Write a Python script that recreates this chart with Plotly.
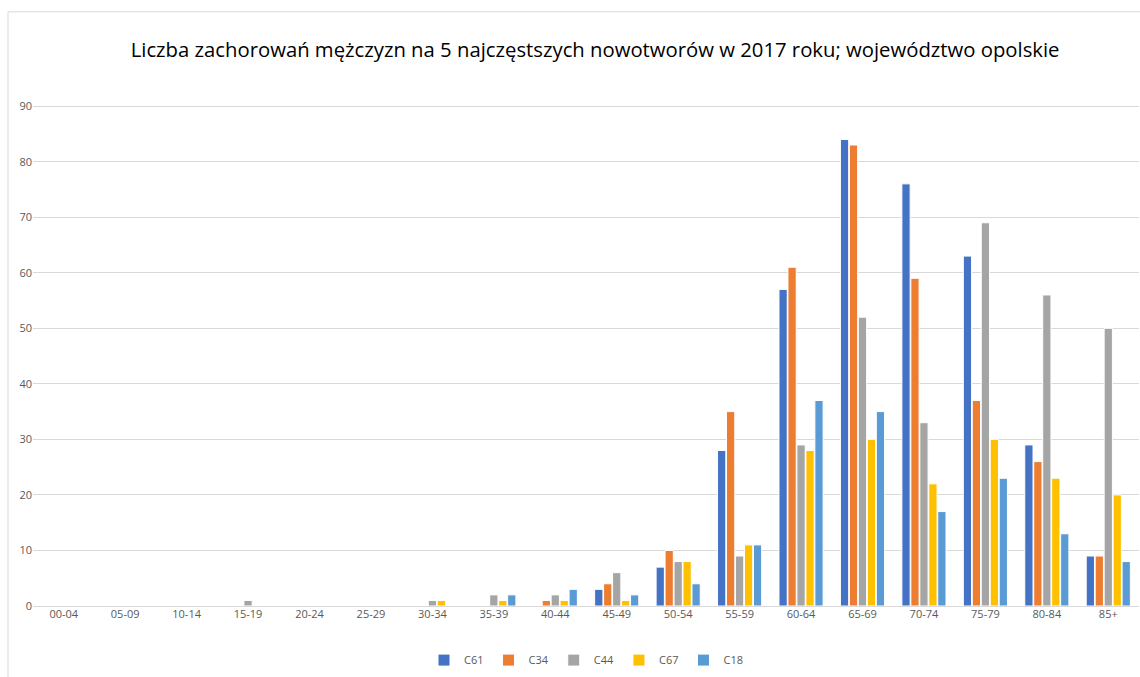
import plotly.graph_objects as go

groups = ["00-04", "05-09", "10-14", "15-19", "20-24", "25-29", "30-34", "35-39", "40-44",
          "45-49", "50-54", "55-59", "60-64", "65-69", "70-74", "75-79", "80-84", "85+"]

c61 = [0, 0, 0, 0, 0, 0, 0, 0, 0, 3, 7, 28, 57, 84, 76, 63, 29, 9]
c34 = [0, 0, 0, 0, 0, 0, 0, 0, 1, 4, 10, 35, 61, 83, 59, 37, 26, 9]
c44 = [0, 0, 0, 1, 0, 0, 1, 2, 2, 6, 8, 9, 29, 52, 33, 69, 56, 50]
c67 = [0, 0, 0, 0, 0, 0, 1, 1, 1, 1, 8, 11, 28, 30, 22, 30, 23, 20]
c18 = [0, 0, 0, 0, 0, 0, 0, 2, 3, 2, 4, 11, 37, 35, 17, 23, 13, 8]

series = [("C61", c61, "#4472C4"), ("C34", c34, "#ED7D31"), ("C44", c44, "#A5A5A5"),
          ("C67", c67, "#FFC000"), ("C18", c18, "#5B9BD5")]

fig = go.Figure()
for name, vals, col in series:
    fig.add_trace(go.Bar(x=groups, y=vals, name=name, marker_color=col,
                         marker_line=dict(color="white", width=1)))

fig.update_layout(
    width=1140, height=677,
    paper_bgcolor="white", plot_bgcolor="white",
    margin=dict(l=33, r=1, t=105, b=71),
    font=dict(family="Open Sans, sans-serif", color="#595959", size=11),
    title=dict(text="Liczba zachorowań mężczyzn na 5 najczęstszych nowotworów w 2017 roku; województwo opolskie",
               x=0.522, xanchor="center", y=0.926, yanchor="middle",
               font=dict(size=20.3, color="#000000", family="Open Sans, sans-serif")),
    barmode="group", bargap=0.27, bargroupgap=0.08,
    legend=dict(orientation="h", x=0.5, xanchor="center", y=-0.108, yanchor="middle",
                font=dict(size=11, color="#595959")),
    xaxis=dict(type="category", showgrid=False, showline=False, ticks="", tickfont=dict(size=11)),
    yaxis=dict(range=[0, 90.2], tickvals=[0, 10, 20, 30, 40, 50, 60, 70, 80, 90],
               showgrid=True, gridcolor="#D9D9D9", gridwidth=1,
               zeroline=True, zerolinecolor="#D9D9D9", zerolinewidth=1, ticks="",
               tickfont=dict(size=11)),
    shapes=[dict(type="rect", xref="paper", yref="paper", x0=-0.0226, x1=1.05, y0=-0.3, y1=1.186,
                 line=dict(color="#D9D9D9", width=1), fillcolor="rgba(0,0,0,0)", layer="below")],
)

# page body has a default 8px margin; drop it so the figure fills the window
fig.write_html("out.html", config={"displayModeBar": False},
               post_script="document.body.style.margin='0';")
